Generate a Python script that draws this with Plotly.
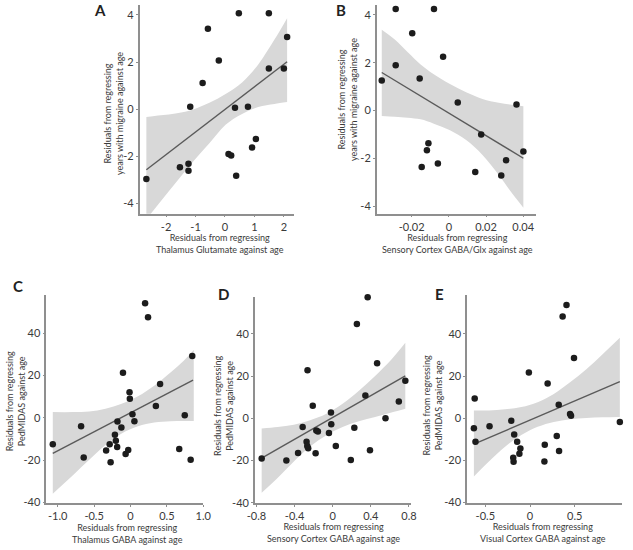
import plotly.graph_objects as go

W, H = 633, 550

# ---------------- Panel A ----------------
a_x = [-2.67, -1.53, -1.24, -1.24, -1.18, -0.76, -0.58, -0.21, 0.12, 0.21,
       0.34, 0.38, 0.47, 0.78, 0.92, 1.05, 1.49, 1.49, 2.00, 2.11]
a_y = [-2.96, -2.46, -2.31, -2.61, 0.10, 1.11, 3.41, 2.06, -1.90, -1.96,
       0.06, -2.82, 4.07, 0.10, -1.62, -1.26, 4.07, 1.72, 1.72, 3.06]
a_fit_x = [-2.67, 2.11]
a_fit_y = [-2.57, 2.01]
a_band_x = [-2.67, -2.18, -1.63, -1.08, -0.53, 0.02, 0.58, 1.13, 1.68, 2.11]
a_band_hi = [-0.33, -0.26, -0.17, -0.01, 0.27, 0.64, 1.13, 1.90, 2.95, 3.86]
a_band_lo = [-4.67, -3.90, -3.06, -2.22, -1.45, -0.66, -0.20, 0.09, 0.22, 0.30]
a_xticks = [-2, -1, 0, 1, 2]
a_xticklabels = ["-2", "-1", "0", "1", "2"]
a_yticks = [-4, -2, 0, 2, 4]
a_yticklabels = ["-4", "-2", "0", "2", "4"]

# ---------------- Panel B ----------------
b_x = [-0.0361, -0.0286, -0.0286, -0.0197, -0.0157, -0.0110, -0.0118, -0.0146, -0.0080,
       -0.0031, -0.0059, 0.0048, 0.0142, 0.0174, 0.0282, 0.0308, 0.0364, 0.0401]
b_y = [1.26, 4.25, 1.89, 3.24, 1.34, -1.37, -1.66, -2.37, 4.25,
       2.25, -2.22, 0.33, -2.58, -1.01, -2.72, -2.08, 0.25, -1.72]
b_fit_x = [-0.0361, 0.0401]
b_fit_y = [1.59, -2.00]
b_band_x = [-0.0361, -0.0291, -0.0221, -0.0152, -0.0081, 0.0006, 0.0093, 0.0181, 0.0268, 0.0338, 0.0401]
b_band_hi = [3.38, 2.97, 2.44, 1.93, 1.52, 1.11, 0.76, 0.48, 0.32, 0.24, 0.18]
b_band_lo = [-0.23, -0.26, -0.30, -0.37, -0.55, -0.83, -1.24, -1.86, -2.69, -3.45, -4.07]
b_xticks = [-0.02, 0, 0.02, 0.04]
b_xticklabels = ["-0.02", "0", "0.02", "0.04"]
b_yticks = [-4, -2, 0, 2, 4]
b_yticklabels = ["-4", "-2", "0", "2", "4"]

# ---------------- Panel C ----------------
c_x = [-1.068, -0.679, -0.643, -0.335, -0.286, -0.273, -0.214, -0.201, -0.183, -0.179,
       -0.125, -0.103, -0.067, -0.031, -0.013, -0.009, 0.027, 0.054, 0.201, 0.241,
       0.349, 0.407, 0.670, 0.746, 0.827, 0.849]
c_y = [-12.5, -4.0, -18.8, -15.5, -12.5, -21.0, -8.0, -10.8, -13.8, -1.8,
       -4.6, 21.3, -17.1, -15.2, 12.1, 9.0, 1.7, -1.6, 54.2, 47.6,
       5.6, 16.0, -14.7, 1.2, -19.9, 29.3]
c_fit_x = [-1.068, 0.86]
c_fit_y = [-16.8, 17.8]
c_band_x = [-1.068, -0.791, -0.567, -0.344, -0.121, 0.103, 0.326, 0.550, 0.728, 0.87]
c_band_hi = [2.7, 2.7, 3.0, 4.3, 6.6, 10.2, 15.2, 21.4, 26.9, 32.1]
c_band_lo = [-35.9, -27.2, -19.9, -12.9, -7.4, -4.0, -2.2, -1.6, -1.5, -1.5]
c_xticks = [-1.0, -0.5, 0, 0.5, 1.0]
c_xticklabels = ["-1.0", "-0.5", "0", "0.5", "1.0"]
c_yticks = [-40, -20, 0, 20, 40]
c_yticklabels = ["-40", "-20", "0", "20", "40"]

# ---------------- Panel D ----------------
d_x = [-0.745, -0.486, -0.363, -0.315, -0.274, -0.267, -0.257, -0.264, -0.209, -0.172,
       -0.155, -0.179, -0.039, -0.018, -0.015, 0.033, 0.190, 0.227, 0.254, 0.343,
       0.367, 0.391, 0.466, 0.554, 0.694, 0.762]
d_y = [-19.0, -20.0, -16.4, -4.1, -11.1, -13.1, -14.2, 22.8, 5.9, -5.8,
       -6.2, -16.5, -7.0, 2.8, -2.8, -13.1, -19.7, -4.5, 44.7, 10.8,
       57.3, -15.1, 26.1, 0.0, 8.0, 17.8]
d_fit_x = [-0.745, 0.762]
d_fit_y = [-18.9, 20.1]
d_band_x = [-0.745, -0.578, -0.407, -0.237, -0.066, 0.104, 0.275, 0.445, 0.616, 0.762]
d_band_hi = [-4.8, -4.1, -3.0, -0.9, 2.2, 6.9, 13.1, 20.1, 27.9, 35.8]
d_band_lo = [-35.3, -28.3, -20.5, -13.4, -8.0, -4.1, -1.4, 0.6, 2.7, 4.5]
d_xticks = [-0.8, -0.4, 0, 0.4, 0.8]
d_xticklabels = ["-0.8", "-0.4", "0", "0.4", "0.8"]
d_yticks = [-40, -20, 0, 20, 40]
d_yticklabels = ["-40", "-20", "0", "20", "40"]

# ---------------- Panel E ----------------
e_x = [-0.619, -0.628, -0.610, -0.453, -0.210, -0.177, -0.188, -0.184, -0.144, -0.108,
       -0.119, -0.013, 0.165, 0.161, 0.197, 0.299, 0.321, 0.325, 0.365, 0.408,
       0.448, 0.459, 0.492, 1.005]
e_y = [9.3, -4.8, -11.2, -3.8, -1.2, -7.7, -18.7, -20.7, -11.2, -14.4,
       -16.8, 21.7, -12.6, -20.5, 16.5, -8.5, 6.4, -15.5, 48.2, 53.7,
       2.0, 1.2, 28.5, -1.8]
e_fit_x = [-0.628, 1.005]
e_fit_y = [-12.3, 17.3]
e_band_x = [-0.628, -0.460, -0.279, -0.097, 0.085, 0.266, 0.448, 0.630, 0.812, 1.005]
e_band_hi = [3.7, 3.7, 4.2, 5.3, 7.6, 11.5, 17.0, 23.2, 30.3, 38.1]
e_band_lo = [-27.6, -20.5, -13.5, -8.0, -4.1, -1.8, -0.5, 0.1, 0.4, 0.6]
e_xticks = [-0.5, 0, 0.5]
e_xticklabels = ["-0.5", "0", "0.5"]
e_yticks = [-40, -20, 0, 20, 40]
e_yticklabels = ["-40", "-20", "0", "20", "40"]

letters = ["A", "B", "C", "D", "E"]
x_titles = [
    "Residuals from regressing<br>Thalamus Glutamate against age",
    "Residuals from regressing<br>Sensory Cortex GABA/Glx against age",
    "Residuals from regressing<br>Thalamus GABA against age",
    "Residuals from regressing<br>Sensory Cortex GABA against age",
    "Residuals from regressing<br>Visual Cortex GABA against age",
]
y_titles = [
    "Residuals from regressing<br>years with migraine against age",
    "Residuals from regressing<br>years with migraine against age",
    "Residuals from regressing<br>PedMIDAS against age",
    "Residuals from regressing<br>PedMIDAS against age",
    "Residuals from regressing<br>PedMIDAS against age",
]

FONT = "Lato, 'Open Sans', sans-serif"
TXT = "#3a3a3a"
DOT = "#1c1c1c"
LINE = "#5a5a5a"
BAND = "rgba(216,216,216,1)"
AXIS = "#8f8f8f"

# layout geometry in pixels: (left, right, top, bottom) of each plot area
geom = [
    (135, 293, 5, 216),
    (378.3, 541.7, 5, 216),
    (39.3, 200.3, 298.3, 508.3),
    (253.3, 413.3, 300, 508.3),
    (471, 630, 298.3, 508.3),
]
ranges = [
    ([-2.90, 2.33], [-4.43, 4.42]),
    ([-0.0388, 0.0469], [-4.32, 4.42]),
    ([-1.157, 1.0], [-40.2, 58.1]),
    ([-0.816, 0.820], [-40.0, 57.6]),
    ([-0.704, 1.03], [-40.1, 58.4]),
]
letter_pos = [(94, 0), (342, 0), (10, 279), (221, 287), (443, 287)]
ytitle_pos = [(109, 115), (349, 101), (8, 406), (221, 410), (436, 410)]
xtitle_pos = [(217, 246.5), (461, 246.5), (123, 539.5), (334, 538.5), (549, 538.5)]

panels = [
    (a_x, a_y, a_fit_x, a_fit_y, a_band_x, a_band_hi, a_band_lo, a_xticks, a_xticklabels, a_yticks, a_yticklabels),
    (b_x, b_y, b_fit_x, b_fit_y, b_band_x, b_band_hi, b_band_lo, b_xticks, b_xticklabels, b_yticks, b_yticklabels),
    (c_x, c_y, c_fit_x, c_fit_y, c_band_x, c_band_hi, c_band_lo, c_xticks, c_xticklabels, c_yticks, c_yticklabels),
    (d_x, d_y, d_fit_x, d_fit_y, d_band_x, d_band_hi, d_band_lo, d_xticks, d_xticklabels, d_yticks, d_yticklabels),
    (e_x, e_y, e_fit_x, e_fit_y, e_band_x, e_band_hi, e_band_lo, e_xticks, e_xticklabels, e_yticks, e_yticklabels),
]

fig = go.Figure()
layout = dict(
    width=W, height=H,
    margin=dict(l=0, r=0, t=0, b=0),
    paper_bgcolor="white", plot_bgcolor="white",
    showlegend=False,
    font=dict(family=FONT, color=TXT, size=11),
)
annotations = []

for i, (px_, py_, fx, fy, bx, bhi, blo, xt, xtl, yt, ytl) in enumerate(panels):
    n = "" if i == 0 else str(i + 1)
    xa, ya = "x" + n, "y" + n
    common = dict(xaxis=xa, yaxis=ya, showlegend=False, hoverinfo="skip")
    fig.add_trace(go.Scatter(x=bx, y=blo, mode="lines", line=dict(width=0, shape="spline"), **common))
    fig.add_trace(go.Scatter(x=bx, y=bhi, mode="lines", line=dict(width=0, shape="spline"),
                             fill="tonexty", fillcolor=BAND, **common))
    fig.add_trace(go.Scatter(x=fx, y=fy, mode="lines", line=dict(color=LINE, width=1.4), **common))
    fig.add_trace(go.Scatter(x=px_, y=py_, mode="markers", cliponaxis=False,
                             marker=dict(color=DOT, size=6.5, line=dict(width=0)), **common))

    l, r, t, b = geom[i]
    xr, yr = ranges[i]
    axis_common = dict(showline=True, linecolor=AXIS, linewidth=1.5, showgrid=False, zeroline=False,
                       ticks="outside", ticklen=2, tickcolor=AXIS, tickfont=dict(family=FONT, size=11, color=TXT))
    layout["xaxis" + n] = dict(domain=[l / W, r / W], range=xr, anchor=ya,
                               tickvals=xt, ticktext=xtl, **axis_common)
    layout["yaxis" + n] = dict(domain=[1 - b / H, 1 - t / H], range=yr, anchor=xa,
                               tickvals=yt, ticktext=ytl, **axis_common)

    lx, ly = letter_pos[i]
    annotations.append(dict(text="<b>" + letters[i] + "</b>", x=lx / W, y=1 - ly / H, xref="paper", yref="paper",
                            showarrow=False, xanchor="center", yanchor="top", borderpad=0,
                            font=dict(family=FONT, size=15, color="#222222")))
    tx, ty = ytitle_pos[i]
    annotations.append(dict(text=y_titles[i], x=tx / W, y=1 - ty / H, xref="paper", yref="paper",
                            showarrow=False, xanchor="center", yanchor="middle", textangle=-90, borderpad=0,
                            font=dict(family=FONT, size=9, color=TXT)))
    tx, ty = xtitle_pos[i]
    annotations.append(dict(text=x_titles[i], x=tx / W, y=1 - ty / H, xref="paper", yref="paper",
                            showarrow=False, xanchor="center", yanchor="middle", borderpad=0,
                            font=dict(family=FONT, size=9, color=TXT)))

layout["annotations"] = annotations
fig.update_layout(**layout)

fig.write_html("out.html", config={"displayModeBar": False},
               post_script="document.body.style.margin='0';")
